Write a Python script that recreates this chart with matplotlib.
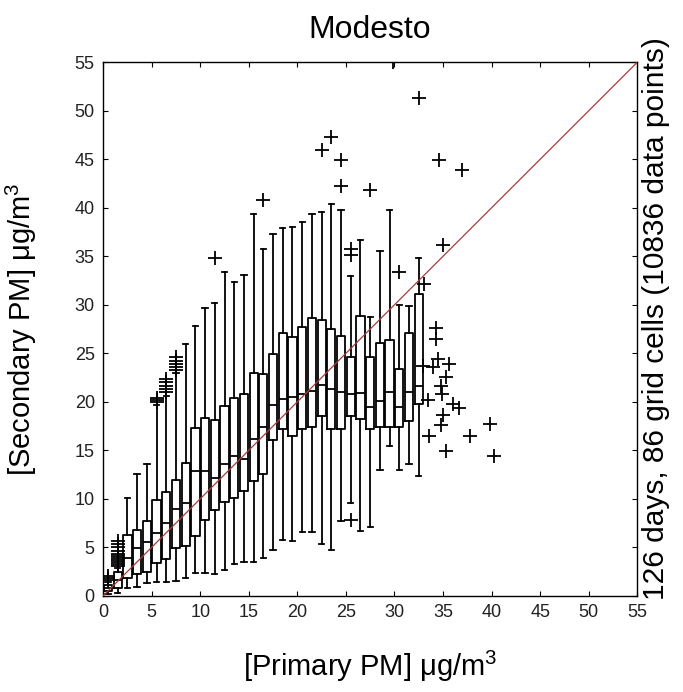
import numpy as np
import matplotlib.pyplot as plt

plt.rcParams['font.family'] = ['Liberation Sans', 'DejaVu Sans']
plt.rcParams['mathtext.default'] = 'regular'

# box statistics per 1 ug/m3 bin of primary PM
positions = np.arange(33) + 0.5
whis_lo = [0.2, 0.3, 0.8, 0.9, 1.3, 1.4, 1.4, 1.5, 1.8, 2.4, 2.4, 2.3, 2.7, 3.3, 3.5, 3.5, 3.9,
           4.7, 5.8, 5.6, 6.6, 6.6, 5.3, 4.7, 7.7, 9.6, 6.7, 7.1, 13.0, 15.4, 13.0, 13.6, 12.4]
q1 = [0.5, 0.8, 1.8, 2.3, 2.5, 3.4, 3.8, 4.9, 5.1, 6.2, 7.8, 8.8, 9.7, 10.1, 10.8, 11.8, 12.6,
      16.1, 17.2, 16.5, 17.2, 17.4, 18.5, 17.2, 17.2, 18.5, 18.2, 17.2, 17.4, 17.4, 17.4, 18.0, 19.8]
medians = [0.8, 1.6, 3.9, 4.9, 5.5, 6.5, 7.5, 9.0, 9.6, 12.9, 12.9, 12.1, 13.6, 14.4, 14.1, 16.2, 17.4,
           19.7, 20.3, 20.5, 20.8, 21.1, 21.7, 21.3, 21.0, 20.8, 20.9, 19.5, 20.1, 21.0, 19.5, 21.0, 21.6]
q3 = [1.1, 2.5, 6.3, 6.8, 7.7, 9.9, 10.7, 11.9, 13.7, 17.3, 18.3, 18.1, 19.6, 20.4, 20.8, 23.0, 22.9,
      24.9, 27.1, 26.7, 27.7, 28.6, 28.4, 27.5, 26.8, 24.6, 28.8, 24.6, 26.1, 26.4, 23.4, 27.1, 31.1]
whis_hi = [1.4, 2.9, 10.1, 12.6, 13.6, 19.7, 20.6, 23.0, 26.0, 27.8, 29.7, 30.2, 33.4, 32.3, 33.1, 39.4, 35.8,
           37.3, 37.9, 38.0, 38.5, 39.4, 39.6, 40.4, 39.8, 33.0, 36.7, 28.7, 35.5, 39.8, 30.0, 29.9, 34.8]

# outliers (+)
out_x = [0.5, 0.5, 0.5,
         1.5, 1.5, 1.5, 1.5, 1.5, 1.5, 1.5, 1.5, 1.5, 1.5, 1.5,
         5.5, 5.5, 5.5,
         6.5, 6.5, 6.5, 6.5, 6.5,
         7.5, 7.5, 7.5, 7.5, 7.5,
         11.5, 16.5, 22.5, 23.5, 24.5, 24.5, 25.5, 25.5, 25.5, 27.5, 30.5, 29.9, 32.5,
         33.0, 34.3, 34.3, 32.9, 34.0, 34.5, 35.6, 35.3, 34.8, 34.9, 33.5, 36.0, 36.6,
         35.0, 34.8, 39.8, 33.6, 37.8, 35.3, 40.2, 34.6, 37.0, 35.0]
out_y = [1.6, 1.8, 2.0,
         3.1, 3.3, 3.5, 3.7, 3.9, 4.1, 4.3, 4.6, 5.0, 5.3, 5.6,
         20.0, 20.2, 20.4,
         21.0, 21.3, 21.6, 22.0, 22.3,
         23.3, 23.6, 23.9, 24.2, 24.6,
         34.8, 40.8, 46.0, 47.3, 44.9, 42.2, 35.8, 35.1, 7.8, 41.8, 33.4, 55.0, 51.3,
         32.1, 27.6, 26.5, 23.7, 23.6, 24.4, 23.9, 22.6, 21.6, 20.8, 20.2, 19.8, 19.4,
         18.6, 17.6, 17.7, 16.5, 16.5, 14.9, 14.4, 44.9, 43.9, 36.2]

axis_max = 55
ticks = np.arange(0, 56, 5)

fig = plt.figure(figsize=(6.83, 6.92), dpi=100)
ax = fig.add_axes([0.151, 0.139, 0.782, 0.771])

stats = []
for lo, a, m, b, hi in zip(whis_lo, q1, medians, q3, whis_hi):
    stats.append(dict(whislo=lo, q1=a, med=m, q3=b, whishi=hi, fliers=[]))

line = dict(color='black', linewidth=1.3)
ax.bxp(stats, positions=positions, widths=0.85, capwidths=0.55, showfliers=False,
       boxprops=line, whiskerprops=line, capprops=line, medianprops=line,
       manage_ticks=False)

ax.plot(out_x, out_y, linestyle='none', marker='+', color='black',
        markersize=10, markeredgewidth=1.3)

# 1:1 line
ax.plot([0, axis_max], [0, axis_max], color='#b03a3a', linewidth=0.9, zorder=5)

ax.set_xlim(0, axis_max)
ax.set_ylim(0, axis_max)
ax.set_xticks(ticks)
ax.set_yticks(ticks)
ax.tick_params(direction='in', length=3.5, top=True, right=True, labelsize=13,
               labelcolor='#222222', pad=6)
for s in ax.spines.values():
    s.set_linewidth(1.0)

ax.set_xlabel('[Primary PM] μg/m$^3$', fontsize=21)
ax.set_ylabel('[Secondary PM] μg/m$^3$', fontsize=21)
ax.xaxis.set_label_coords(0.5, -0.1)
ax.yaxis.set_label_coords(-0.12, 0.5)

ax.text(1.035, 0.52, '126 days, 86 grid cells (10836 data points)', transform=ax.transAxes,
        rotation=90, ha='center', va='center', fontsize=21.5)
fig.text(0.542, 0.957, 'Modesto', ha='center', va='center', fontsize=23)

fig.savefig('out.png', dpi=100)
